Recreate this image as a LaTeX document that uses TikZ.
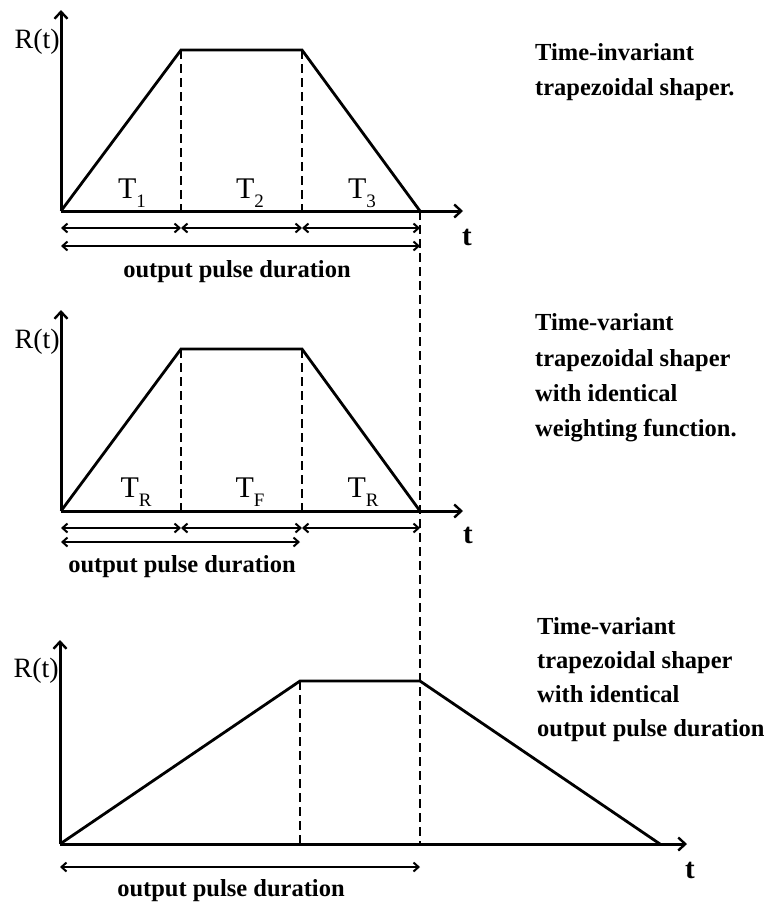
\documentclass[tikz,border=0pt]{standalone}
\usepackage{fontspec}
\setmainfont{Liberation Serif}
\usetikzlibrary{arrows.meta}
\newcommand{\Tlab}[1]{T\raisebox{-0.3em}{\fontsize{19}{19}\selectfont #1}}
\begin{document}
\begin{tikzpicture}[x=1pt,y=-1pt,
  axis/.style={line width=3pt,-{Straight Barb[length=7pt,width=13pt,line width=2.4pt]}},
  pulse/.style={line width=2.8pt,line join=miter},
  guide/.style={line width=2.8pt,dash pattern=on 9pt off 5pt},
  dim/.style={line width=2.4pt,{Straight Barb[length=5pt,width=9pt,line width=2pt]}-{Straight Barb[length=5pt,width=9pt,line width=2pt]}},
  desc/.style={anchor=base west,inner sep=0pt,font=\fontsize{24.5}{28}\selectfont\bfseries},
  durlab/.style={anchor=base,inner sep=0pt,font=\fontsize{24.5}{28}\selectfont\bfseries},
  rlab/.style={anchor=base east,inner sep=0pt,font=\fontsize{28}{30}\selectfont},
  tlab/.style={anchor=base,inner sep=0pt,font=\fontsize{29}{30}\selectfont\bfseries},
  seglab/.style={anchor=base,inner sep=0pt,font=\fontsize{30}{32}\selectfont}
]
\useasboundingbox (0,0) rectangle (773,905);

% ---------- panel 1 ----------
\coordinate (O1) at (61,211);
\coordinate (A1) at (181,50);
\coordinate (B1) at (302,50);
\coordinate (C1) at (420,211);
\coordinate (Y1) at (61,10);
\coordinate (X1) at (463,211);
% ---------- panel 2 ----------
\coordinate (O2) at (61,511);
\coordinate (A2) at (181,349);
\coordinate (B2) at (302,349);
\coordinate (C2) at (420,511);
\coordinate (Y2) at (61,310);
\coordinate (X2) at (463,511);
% ---------- panel 3 ----------
\coordinate (O3) at (60,844);
\coordinate (A3) at (300,681);
\coordinate (B3) at (420,681);
\coordinate (C3) at (660,844);
\coordinate (Y3) at (60,640);
\coordinate (X3) at (687,844);

% dimension end points
\coordinate (p1a) at (61,228);  \coordinate (p1b) at (181,228);
\coordinate (p1c) at (302,228); \coordinate (p1d) at (420,228);
\coordinate (q1a) at (61,246);  \coordinate (q1b) at (420,246);
\coordinate (p2a) at (61,528);  \coordinate (p2b) at (181,528);
\coordinate (p2c) at (302,528); \coordinate (p2d) at (420,528);
\coordinate (q2a) at (61,542);  \coordinate (q2b) at (300,542);
\coordinate (q3a) at (60,867);  \coordinate (q3b) at (420,867);

% axes and pulses
\foreach \i in {1,2,3}{
  \draw[axis] (O\i) -- (Y\i);
  \draw[axis] (O\i) -- (X\i);
  \draw[pulse] (O\i) -- (A\i) -- (B\i) -- (C\i);
}

% dashed guides
\draw[guide] (A1) -- (A1 |- O1);
\draw[guide] (B1) -- (B1 |- O1);
\draw[guide] (A2) -- (A2 |- O2);
\draw[guide] (B2) -- (B2 |- O2);
\draw[guide] (A3) -- (A3 |- O3);
\draw[guide] (C1) -- (C1 |- O3);

% dimension arrows
\draw[dim] (p1a) -- (p1b);
\draw[dim] (p1b) -- (p1c);
\draw[dim] (p1c) -- (p1d);
\draw[dim] (q1a) -- (q1b);
\draw[dim] (p2a) -- (p2b);
\draw[dim] (p2b) -- (p2c);
\draw[dim] (p2c) -- (p2d);
\draw[dim] (q2a) -- (q2b);
\draw[dim] (q3a) -- (q3b);

% axis labels
\node[rlab] (r1) at (60,48) {R(t)};
\node[rlab] (r2) at (60,348) {R(t)};
\node[rlab] (r3) at (59,677) {R(t)};
\node[tlab] (t1) at (467,245) {t};
\node[tlab] (t2) at (468,543) {t};
\node[tlab] (t3) at (690,878) {t};

% segment labels
\node[seglab] (s11) at (132,198) {\Tlab{1}};
\node[seglab] (s12) at (250,198) {\Tlab{2}};
\node[seglab] (s13) at (362,198) {\Tlab{3}};
\node[seglab] (s21) at (136,497) {\Tlab{R}};
\node[seglab] (s22) at (250,497) {\Tlab{F}};
\node[seglab] (s23) at (363,497) {\Tlab{R}};

% duration labels
\node[durlab] (d1) at (237,277) {output pulse duration};
\node[durlab] (d2) at (182,572) {output pulse duration};
\node[durlab] (d3) at (231,896) {output pulse duration};

% descriptions
\node[desc] (e11) at (535,60) {Time-invariant};
\node[desc] (e12) at (535,95) {trapezoidal shaper.};
\node[desc] (e21) at (535,330) {Time-variant};
\node[desc] (e22) at (535,366) {trapezoidal shaper};
\node[desc] (e23) at (535,401) {with identical};
\node[desc] (e24) at (535,436) {weighting function.};
\node[desc] (e31) at (537,634) {Time-variant};
\node[desc] (e32) at (537,668) {trapezoidal shaper};
\node[desc] (e33) at (537,702) {with identical};
\node[desc] (e34) at (537,736) {output pulse duration};
\end{tikzpicture}
\end{document}
